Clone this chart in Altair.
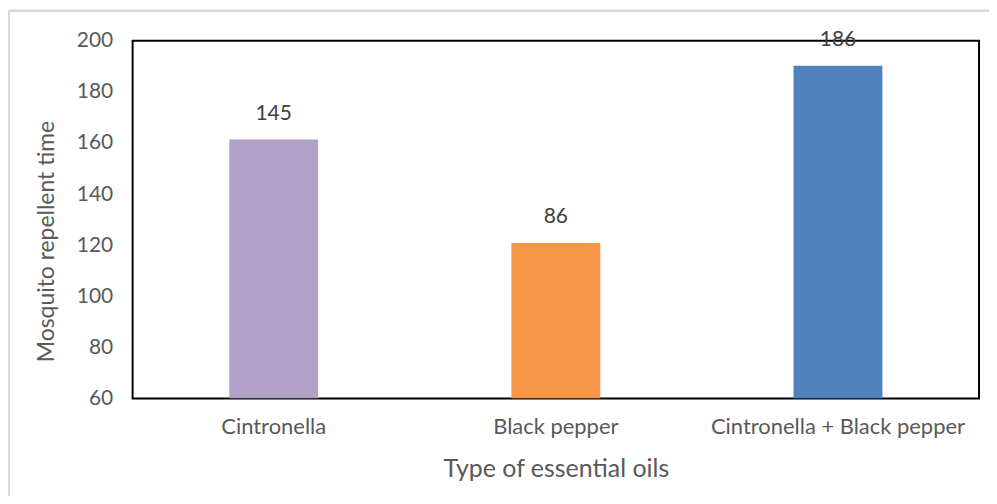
import altair as alt
import pandas as pd

categories = ["Cintronella", "Black pepper", "Cintronella + Black pepper"]
bar_values = [161.3, 120.8, 190.2]
labels = ["145", "86", "186"]
colors = ["#B1A0C7", "#F79646", "#4F81BD"]
y_ticks = [60, 80, 100, 120, 140, 160, 180, 200]

df = pd.DataFrame({"oil": categories, "value": bar_values, "label": labels, "color": colors})

FONT = "Lato"

x_enc = alt.X("oil:N", sort=categories,
              scale=alt.Scale(paddingInner=0.685, paddingOuter=0.3425),
              axis=alt.Axis(title="Type of essential oils", labelAngle=0, labelFontSize=22,
                            labelColor="#595959", labelFont=FONT, labelPadding=18, labelLimit=400,
                            ticks=False, domain=False, titleFontSize=25, titleFont=FONT,
                            titleColor="#595959", titleFontWeight="normal", titlePadding=19))
y_scale = alt.Scale(domain=[60, 200], nice=False, zero=False)

bars = alt.Chart(df).mark_bar(clip=True).encode(
    x=x_enc,
    y=alt.Y("value:Q", scale=y_scale,
            axis=alt.Axis(title="Mosquito repellent time", values=y_ticks, grid=False,
                          ticks=False, domain=False, labelFontSize=21, labelColor="#595959",
                          labelFont=FONT, labelPadding=20, titleFontSize=23, titleFont=FONT,
                          titleColor="#595959", titleFontWeight="normal", titlePadding=18,
                          titleY=201)),
    y2=alt.datum(60),
    color=alt.Color("color:N", scale=None),
)

text = alt.Chart(df).mark_text(dy=-26, fontSize=21, font=FONT, color="#404040",
                               baseline="middle").encode(
    x=alt.X("oil:N", sort=categories),
    y=alt.Y("value:Q", scale=y_scale),
    text="label:N",
)

border_left = alt.Chart(df).mark_rule(color="#D9D9D9", strokeWidth=2).encode(
    x=alt.value(-124), y=alt.value(-30), y2=alt.value(470))
border_top = alt.Chart(df).mark_rule(color="#D9D9D9", strokeWidth=2).encode(
    x=alt.value(-124), x2=alt.value(870), y=alt.value(-30))

chart = alt.layer(border_left, border_top, bars, text).properties(
    width=849, height=359,
    background="white",
    autosize=alt.AutoSizeParams(type="none"),
    padding={"left": 125, "top": 32, "right": 10, "bottom": 97},
).configure_view(stroke="black", strokeWidth=2)

chart.save("out.html", embed_options={"renderer": "svg", "actions": False})
